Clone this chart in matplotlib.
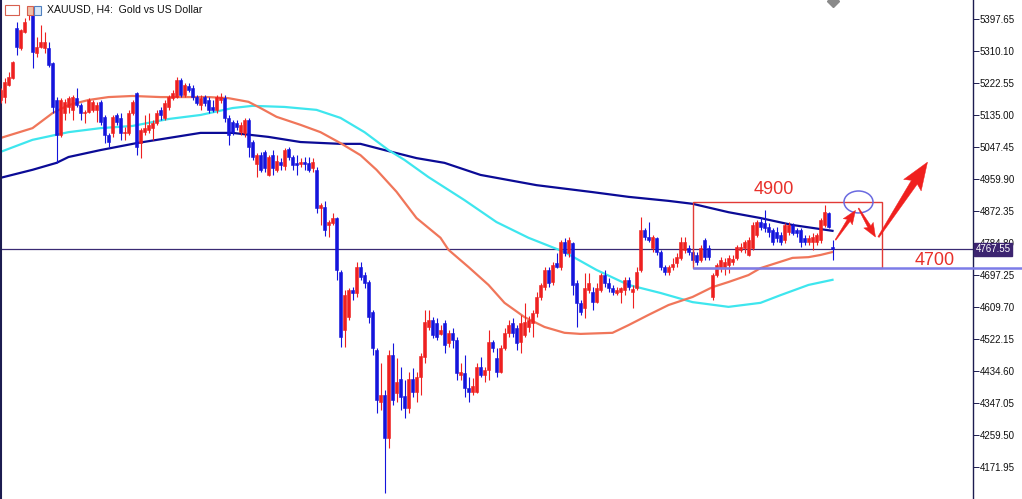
"""XAUUSD H4 candlestick chart with moving averages and hand-drawn annotations."""
import matplotlib

matplotlib.use("Agg")
import matplotlib.pyplot as plt
import matplotlib.transforms as mtransforms
from matplotlib.patches import Rectangle, Ellipse, Polygon
import numpy as np

# OHLC per H4 candle, oldest first
opens = [
    5176, 5184, 5217, 5236, 5373, 5318, 5362, 5409, 5417, 5305,
    5321, 5318, 5318, 5277, 5176, 5080, 5140, 5157, 5149, 5181,
    5162, 5140, 5143, 5149, 5149, 5171, 5130, 5080, 5086, 5135,
    5127, 5086, 5086, 5140, 5195, 5058, 5088, 5094, 5099, 5113,
    5149, 5127, 5157, 5181, 5184, 5231, 5190, 5214, 5209, 5184,
    5162, 5184, 5176, 5157, 5149, 5176, 5181, 5127, 5116, 5113,
    5088, 5086, 5121, 5061, 5001, 5026, 5034, 4971, 5026, 4985,
    5006, 4995, 5042, 5020, 5004, 5001, 5006, 5004, 4990, 4985,
    4881, 4883, 4834, 4839, 4853, 4705, 4547, 4582, 4656, 4648,
    4719, 4697, 4678, 4596, 4492, 4350, 4369, 4251, 4478, 4375,
    4413, 4366, 4333, 4413, 4377, 4418, 4473, 4555, 4574, 4566,
    4536, 4566, 4511, 4538, 4519, 4423, 4429, 4388, 4377, 4377,
    4446, 4423, 4437, 4514, 4470, 4432, 4497, 4538, 4566, 4552,
    4514, 4533, 4555, 4566, 4593, 4637, 4664, 4711, 4678, 4730,
    4719, 4787, 4757, 4785, 4675, 4621, 4607, 4656, 4651, 4623,
    4656, 4697, 4675, 4662, 4648, 4651, 4656, 4684, 4651, 4662,
    4711, 4820, 4801, 4771, 4798, 4760, 4719, 4705, 4719, 4730,
    4744, 4766, 4771, 4760, 4752, 4738, 4793, 4771, 4637, 4697,
    4716, 4719, 4725, 4733, 4744, 4766, 4771, 4752, 4771, 4807,
    4842, 4839, 4829, 4820, 4815, 4807, 4793, 4815, 4834, 4820,
    4820, 4798, 4787, 4787, 4787, 4793, 4834, 4867, 4774,
]
highs = [
    5209, 5236, 5253, 5283, 5389, 5370, 5400, 5428, 5428, 5348,
    5381, 5362, 5335, 5279, 5184, 5181, 5179, 5187, 5190, 5209,
    5168, 5149, 5181, 5176, 5171, 5176, 5135, 5086, 5135, 5140,
    5140, 5102, 5149, 5176, 5198, 5099, 5135, 5140, 5121, 5149,
    5157, 5176, 5190, 5203, 5239, 5236, 5222, 5222, 5217, 5190,
    5190, 5190, 5184, 5176, 5190, 5195, 5190, 5135, 5121, 5121,
    5116, 5127, 5127, 5067, 5031, 5034, 5039, 5026, 5039, 5026,
    5017, 5045, 5047, 5026, 5026, 5017, 5020, 5020, 5017, 4993,
    4894, 4900, 4848, 4867, 4856, 4711, 4656, 4661, 4664, 4733,
    4733, 4705, 4684, 4601, 4497, 4457, 4383, 4492, 4511, 4470,
    4445, 4410, 4432, 4443, 4432, 4484, 4601, 4601, 4582, 4579,
    4560, 4574, 4547, 4552, 4528, 4456, 4478, 4418, 4415, 4456,
    4473, 4446, 4547, 4519, 4497, 4506, 4552, 4574, 4579, 4560,
    4588, 4621, 4585, 4601, 4651, 4675, 4719, 4719, 4733, 4757,
    4793, 4798, 4801, 4787, 4684, 4629, 4703, 4703, 4664, 4675,
    4703, 4711, 4689, 4670, 4664, 4664, 4692, 4692, 4670, 4719,
    4856, 4826, 4842, 4807, 4801, 4766, 4725, 4725, 4744, 4757,
    4801, 4801, 4779, 4771, 4760, 4779, 4798, 4779, 4703, 4730,
    4746, 4744, 4752, 4752, 4779, 4785, 4793, 4801, 4842, 4848,
    4856, 4875, 4839, 4826, 4829, 4815, 4840, 4842, 4840, 4826,
    4826, 4807, 4807, 4812, 4812, 4853, 4889, 4870, 4793,
]
lows = [
    5168, 5168, 5214, 5233, 5299, 5313, 5359, 5395, 5264, 5294,
    5318, 5305, 5266, 5140, 5004, 5075, 5121, 5140, 5121, 5157,
    5121, 5113, 5140, 5143, 5116, 5108, 5058, 5047, 5075, 5108,
    5067, 5067, 5080, 5135, 5026, 5017, 5080, 5086, 5067, 5108,
    5121, 5121, 5149, 5176, 5181, 5184, 5184, 5198, 5176, 5162,
    5149, 5160, 5140, 5143, 5140, 5168, 5116, 5053, 5080, 5094,
    5080, 5075, 5020, 5012, 4965, 4979, 4979, 4968, 4971, 4979,
    4985, 4985, 5012, 4985, 4971, 4993, 4985, 4979, 4979, 4867,
    4834, 4804, 4801, 4834, 4684, 4500, 4500, 4574, 4629, 4637,
    4684, 4662, 4566, 4478, 4320, 4328, 4101, 4224, 4341, 4350,
    4328, 4306, 4320, 4364, 4350, 4369, 4457, 4547, 4525, 4519,
    4533, 4484, 4500, 4497, 4410, 4410, 4364, 4350, 4369, 4375,
    4418, 4405, 4410, 4487, 4418, 4429, 4492, 4528, 4528, 4492,
    4484, 4528, 4541, 4528, 4582, 4629, 4656, 4664, 4670, 4716,
    4711, 4749, 4746, 4642, 4555, 4588, 4579, 4648, 4601, 4621,
    4651, 4664, 4651, 4642, 4642, 4621, 4642, 4656, 4607, 4656,
    4705, 4793, 4787, 4760, 4752, 4711, 4697, 4697, 4711, 4719,
    4738, 4757, 4752, 4730, 4725, 4733, 4738, 4738, 4629, 4692,
    4705, 4697, 4703, 4725, 4738, 4760, 4757, 4749, 4766, 4801,
    4820, 4815, 4801, 4779, 4787, 4779, 4785, 4807, 4807, 4801,
    4774, 4779, 4779, 4766, 4779, 4785, 4829, 4826, 4738,
]
closes = [
    5203, 5225, 5239, 5280, 5321, 5368, 5389, 5422, 5307, 5321,
    5335, 5335, 5272, 5157, 5080, 5176, 5171, 5181, 5184, 5162,
    5140, 5143, 5176, 5171, 5162, 5116, 5080, 5061, 5130, 5116,
    5086, 5088, 5140, 5171, 5047, 5094, 5099, 5108, 5113, 5140,
    5135, 5168, 5184, 5195, 5231, 5190, 5217, 5203, 5184, 5168,
    5181, 5168, 5149, 5149, 5184, 5184, 5127, 5080, 5088, 5102,
    5108, 5121, 5047, 5020, 5026, 4985, 4990, 5020, 4990, 5009,
    4998, 5039, 5020, 4998, 4998, 5006, 5001, 4985, 5006, 4881,
    4889, 4820, 4842, 4853, 4711, 4528, 4642, 4656, 4648, 4719,
    4692, 4675, 4582, 4497, 4355, 4369, 4251, 4478, 4355, 4405,
    4364, 4333, 4413, 4377, 4418, 4476, 4569, 4574, 4533, 4528,
    4547, 4506, 4538, 4519, 4429, 4432, 4388, 4377, 4394, 4446,
    4423, 4437, 4514, 4497, 4432, 4497, 4538, 4560, 4538, 4511,
    4566, 4569, 4574, 4593, 4637, 4670, 4711, 4675, 4725, 4719,
    4787, 4757, 4793, 4670, 4621, 4596, 4662, 4675, 4623, 4662,
    4697, 4675, 4662, 4651, 4656, 4662, 4684, 4664, 4659, 4705,
    4820, 4801, 4793, 4801, 4760, 4719, 4705, 4719, 4727, 4746,
    4787, 4787, 4760, 4738, 4733, 4771, 4746, 4746, 4697, 4725,
    4738, 4733, 4744, 4741, 4774, 4774, 4787, 4793, 4834, 4842,
    4829, 4826, 4815, 4787, 4798, 4787, 4834, 4834, 4812, 4812,
    4787, 4787, 4798, 4801, 4807, 4848, 4870, 4829, 4767.55,
]

# moving averages, read at selected candle indexes
ma_fast_idx = [0, 8, 13, 17, 22, 27, 33, 40, 47, 52, 57, 62, 65, 69, 75, 80, 85,
               90, 94, 99, 104, 110, 112, 117, 122, 126, 131, 136, 141, 145, 153,
               157, 162, 167, 173, 178, 182, 187, 190, 194, 198, 202, 205, 208]
ma_fast = [5072, 5099, 5140, 5162, 5176, 5184, 5187, 5184, 5184, 5184, 5181, 5171,
           5154, 5130, 5108, 5088, 5058, 5025, 4985, 4925, 4853, 4799, 4766, 4719,
           4670, 4621, 4582, 4555, 4539, 4536, 4539, 4560, 4588, 4615, 4637, 4664,
           4678, 4697, 4716, 4730, 4744, 4746, 4752, 4760]

ma_mid_idx = [0, 8, 17, 25, 33, 42, 50, 58, 63, 71, 79, 85, 91, 97, 101, 107,
              116, 124, 132, 141, 149, 157, 165, 173, 182, 190, 195, 202, 208]
ma_mid = [5034, 5067, 5088, 5099, 5105, 5124, 5135, 5154, 5160, 5157, 5149, 5127,
          5088, 5039, 5012, 4965, 4902, 4842, 4799, 4760, 4711, 4670, 4648, 4623,
          4610, 4621, 4642, 4670, 4684]

ma_slow_idx = [0, 8, 14, 17, 25, 34, 42, 50, 58, 67, 75, 85, 90, 96, 104, 111,
               120, 134, 148, 157, 167, 173, 182, 190, 198, 208]
ma_slow = [4963, 4985, 5004, 5020, 5039, 5058, 5072, 5086, 5086, 5075, 5061, 5056,
           5056, 5039, 5017, 5004, 4971, 4943, 4924, 4911, 4900, 4892, 4869, 4853,
           4834, 4818]

price_ticks = [5397.65, 5310.10, 5222.55, 5135.00, 5047.45, 4959.90, 4872.35,
               4784.80, 4697.25, 4609.70, 4522.15, 4434.60, 4347.05, 4259.50,
               4171.95]
last_price = 4767.55

# drawn levels
level_high = 4897
level_low = 4716

RED = "#ee2020"
BLUE = "#1414dc"
AXIS = "#1c1c50"


def tapered_arrow(ax, start, end, w0, w1, head_w, head_len, color):
    """Hand-drawn style arrow: tail widens toward a triangular head (sizes in px)."""
    to_disp = ax.transData
    p0 = np.array(to_disp.transform(start))
    p1 = np.array(to_disp.transform(end))
    d = p1 - p0
    d = d / np.hypot(*d)
    n = np.array([-d[1], d[0]])
    neck = p1 - d * head_len
    barb = p1 - d * head_len * 1.15
    pts = [p0 + n * w0 / 2, neck + n * w1 / 2, barb + n * head_w / 2, p1,
           barb - n * head_w / 2, neck - n * w1 / 2, p0 - n * w0 / 2]
    pts = to_disp.inverted().transform(np.array(pts))
    ax.add_patch(Polygon(pts, closed=True, facecolor=color, edgecolor=color,
                         lw=0.3, zorder=6))


def main() -> None:
    o = np.array(opens, dtype=float)
    h = np.array(highs, dtype=float)
    lo = np.array(lows, dtype=float)
    c = np.array(closes, dtype=float)
    idx = np.arange(len(o))
    cols = np.where(c >= o, RED, BLUE)

    fig = plt.figure(figsize=(10.22, 4.99), dpi=100)
    ax = fig.add_axes([1 / 1022, 0, 972 / 1022, 1])
    ax.set_xlim(0.125, 243.125)
    ax.set_ylim(4084.3, 5449.6)

    # moving averages behind candles
    ax.plot(ma_slow_idx, ma_slow, color="#0b0b96", lw=1.6, zorder=2)
    ax.plot(ma_mid_idx, ma_mid, color="#3ee6ee", lw=1.6, zorder=2)
    ax.plot(ma_fast_idx, ma_fast, color="#f0765a", lw=1.6, zorder=2)

    # candles
    ax.vlines(idx, lo, h, colors=cols, lw=0.8, zorder=3)
    ax.bar(idx, np.abs(c - o), bottom=np.minimum(o, c), width=0.7,
           color=cols, edgecolor=cols, lw=0.4, zorder=4)

    # last price line
    ax.axhline(last_price, color="#3a2a74", lw=0.9, zorder=1)

    # annotations
    ax.add_patch(Rectangle((173, level_low), 220.25 - 173, level_high - level_low,
                           fill=False, edgecolor="#e23a36", lw=1.0, zorder=5))
    ax.plot([173.25, 255.5], [level_low, level_low], color="#7c7ce8", lw=1.8,
            zorder=5, clip_on=False)
    ax.add_patch(Ellipse((214.5, level_high), 7.25, 60, fill=False,
                         edgecolor="#6a6ae0", lw=1.1, zorder=5))
    ax.text(193.25, 4932, "4900", color="#e8302a", fontsize=13,
            family="Liberation Sans", ha="center", va="center", zorder=6)
    ax.text(233.5, 4738, "4700", color="#e8302a", fontsize=13,
            family="Liberation Sans", ha="center", va="center", zorder=6)

    tapered_arrow(ax, (208.75, 4793), (213.75, 4874), 1.0, 3.5, 11, 12, "#f0201e")
    tapered_arrow(ax, (214.5, 4880), (218.75, 4801), 1.0, 3.5, 11, 12, "#f0201e")
    tapered_arrow(ax, (219.5, 4801), (231.75, 5006), 1.5, 7, 21, 24, "#f0201e")

    # chart shift marker at the top
    ax.plot([208], [5447], marker="D", ms=6, color="#8a8a8a", clip_on=False, zorder=6)

    # axes styling
    for side in ("top", "bottom"):
        ax.spines[side].set_visible(False)
    ax.spines["left"].set_color(AXIS)
    ax.spines["left"].set_linewidth(1.5)
    ax.spines["right"].set_color(AXIS)
    ax.spines["right"].set_linewidth(1.0)
    ax.set_xticks([])
    ax.yaxis.tick_right()
    ax.set_yticks(price_ticks)
    ax.set_yticklabels([f"{v:.2f}" for v in price_ticks])
    ax.tick_params(axis="y", direction="out", length=4, width=0.7, color=AXIS,
                   labelsize=7, pad=1, labelcolor="#111111")
    for lab in ax.get_yticklabels():
        lab.set_family("Liberation Sans")

    trans = mtransforms.blended_transform_factory(ax.transAxes, ax.transData)
    ax.text(1.0025, last_price, "4767.55", transform=trans, color="white",
            fontsize=7, family="Liberation Sans", va="center", ha="left", zorder=10,
            bbox=dict(boxstyle="square,pad=0.15", facecolor="#3c2470",
                      edgecolor="#3c2470"), clip_on=False)

    # title and small toolbar icons
    fig.text(47 / 1022, 1 - 10 / 499, "XAUUSD, H4:  Gold vs US Dollar",
             fontsize=7.6, family="Liberation Sans", va="center", ha="left",
             color="#111111")
    fig.patches.append(Rectangle((5 / 1022, 1 - 15 / 499), 14 / 1022, 10 / 499,
                                 transform=fig.transFigure, fill=False,
                                 edgecolor="#d86050", lw=0.8))
    fig.patches.append(Rectangle((27 / 1022, 1 - 15 / 499), 6 / 1022, 9 / 499,
                                 transform=fig.transFigure, facecolor="#f0c0a8",
                                 edgecolor="#d86050", lw=0.8))
    fig.patches.append(Rectangle((34 / 1022, 1 - 15 / 499), 7 / 1022, 9 / 499,
                                 transform=fig.transFigure, facecolor="#d8e8f8",
                                 edgecolor="#5080c0", lw=0.8))

    fig.savefig("out.png", dpi=100)
    plt.close(fig)


if __name__ == "__main__":
    main()
